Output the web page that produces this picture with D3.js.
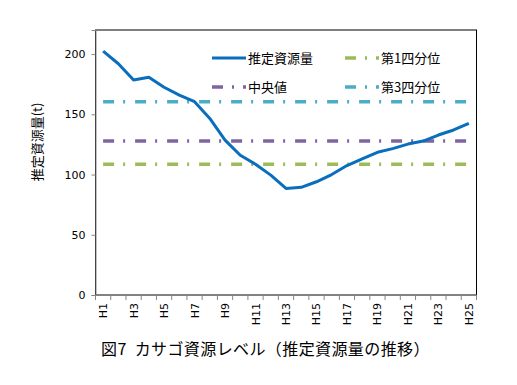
<!DOCTYPE html>
<html>
<head>
<meta charset="utf-8">
<script src="https://cdn.jsdelivr.net/npm/d3@7"></script>
<style>
  body { margin: 0; background: #fff; }
  text { font-family: "DejaVu Sans", sans-serif; }
  .jp { font-family: "Noto Sans CJK JP", sans-serif; }
</style>
</head>
<body>
<div id="chart"></div>
<script>
// data
const years = ["H1","H2","H3","H4","H5","H6","H7","H8","H9","H10","H11","H12","H13",
  "H14","H15","H16","H17","H18","H19","H20","H21","H22","H23","H24","H25"];
const biomass = [202.5, 192, 178.5, 180.7, 172.5, 166, 160.5, 146.6, 128.6, 116, 108.5, 99.5, 88.5,
  89.4, 94, 100, 107.5, 113, 118.5, 121.5, 125.3, 127.8, 132.8, 137, 142.5];
const q1 = 108.5, median = 127.8, q3 = 160.4;
const yTicks = [0, 50, 100, 150, 200];

const width = 517, height = 385;
const plotL = 95.5, plotR = 476.5, plotT = 30, plotB = 295;

const svg = d3.select("#chart").append("svg")
    .attr("width", width)
    .attr("height", height);

const x = d3.scaleBand().domain(years).range([plotL, plotR]);
const y = d3.scaleLinear().domain([0, 220]).range([plotB, plotT]);
const cx = d => x(d) + x.bandwidth() / 2;

// plot area border
svg.append("rect")
    .attr("x", plotL).attr("y", plotT)
    .attr("width", plotR - plotL).attr("height", plotB - plotT)
    .attr("fill", "none").attr("stroke", "#000").attr("stroke-width", 1);

// reference lines
const refs = [
  {v: q3, color: "#4BACC6"},
  {v: median, color: "#8064A2"},
  {v: q1, color: "#9BBB59"}
];
refs.forEach(r => {
  svg.append("line")
      .attr("x1", cx(years[0])).attr("x2", cx(years[years.length - 1]))
      .attr("y1", y(r.v)).attr("y2", y(r.v))
      .attr("stroke", r.color).attr("stroke-width", 3.5)
      .attr("stroke-dasharray", "11,9,2,10");
});

// main series
svg.append("path")
    .datum(biomass)
    .attr("fill", "none")
    .attr("stroke", "#0A6EBD")
    .attr("stroke-width", 3)
    .attr("stroke-linejoin", "round")
    .attr("d", d3.line().x((d, i) => cx(years[i])).y(d => y(d)));

// y axis
const yAxis = svg.append("g")
    .attr("transform", `translate(${plotL},0)`)
    .call(d3.axisLeft(y).tickValues(yTicks).tickSize(4).tickPadding(6));
yAxis.select(".domain").attr("stroke", "#868686");
yAxis.selectAll(".tick line").attr("stroke", "#868686");
yAxis.selectAll("text").attr("font-size", 11).attr("fill", "#000")
    .attr("font-family", "DejaVu Sans");

// x axis with ticks between categories
const xg = svg.append("g");
xg.append("line")
    .attr("x1", plotL).attr("x2", plotR)
    .attr("y1", plotB).attr("y2", plotB)
    .attr("stroke", "#868686");
for (let i = 0; i <= years.length; i++) {
  const xx = plotL + i * x.bandwidth();
  xg.append("line")
      .attr("x1", xx).attr("x2", xx)
      .attr("y1", plotB).attr("y2", plotB + 5)
      .attr("stroke", "#868686");
}
years.forEach((d, i) => {
  if (i % 2 !== 0) return;
  xg.append("text")
      .attr("transform", `translate(${cx(d) + 4},${plotB + 8}) rotate(-90)`)
      .attr("text-anchor", "end")
      .attr("font-size", 11)
      .text(d);
});

// y axis title
svg.append("text")
    .attr("class", "jp")
    .attr("transform", "translate(42,142) rotate(-90)")
    .attr("text-anchor", "middle")
    .attr("font-size", 13)
    .text("推定資源量(t)");

// legend
const legend = [
  {label: "推定資源量", color: "#0A6EBD", dash: null, w: 3, lx: 212, ly: 58},
  {label: "第1四分位", color: "#9BBB59", dash: "11,9,2,9", w: 3.5, lx: 345, ly: 58},
  {label: "中央値", color: "#8064A2", dash: "11,9,2,9", w: 3.5, lx: 212, ly: 87},
  {label: "第3四分位", color: "#4BACC6", dash: "11,9,2,9", w: 3.5, lx: 345, ly: 87}
];
legend.forEach(l => {
  svg.append("line")
      .attr("x1", l.lx).attr("x2", l.lx + 34)
      .attr("y1", l.ly).attr("y2", l.ly)
      .attr("stroke", l.color).attr("stroke-width", l.w)
      .attr("stroke-dasharray", l.dash);
  svg.append("text")
      .attr("class", "jp")
      .attr("x", l.lx + 36).attr("y", l.ly + 5)
      .attr("font-size", 13)
      .text(l.label);
});

// caption
svg.append("text")
    .attr("class", "jp")
    .attr("x", 101).attr("y", 355)
    .attr("font-size", 16)
    .attr("letter-spacing", 0.4)
    .text("図7  カサゴ資源レベル（推定資源量の推移）")
    .attr("xml:space", "preserve")
    .style("white-space", "pre");
</script>
</body>
</html>
